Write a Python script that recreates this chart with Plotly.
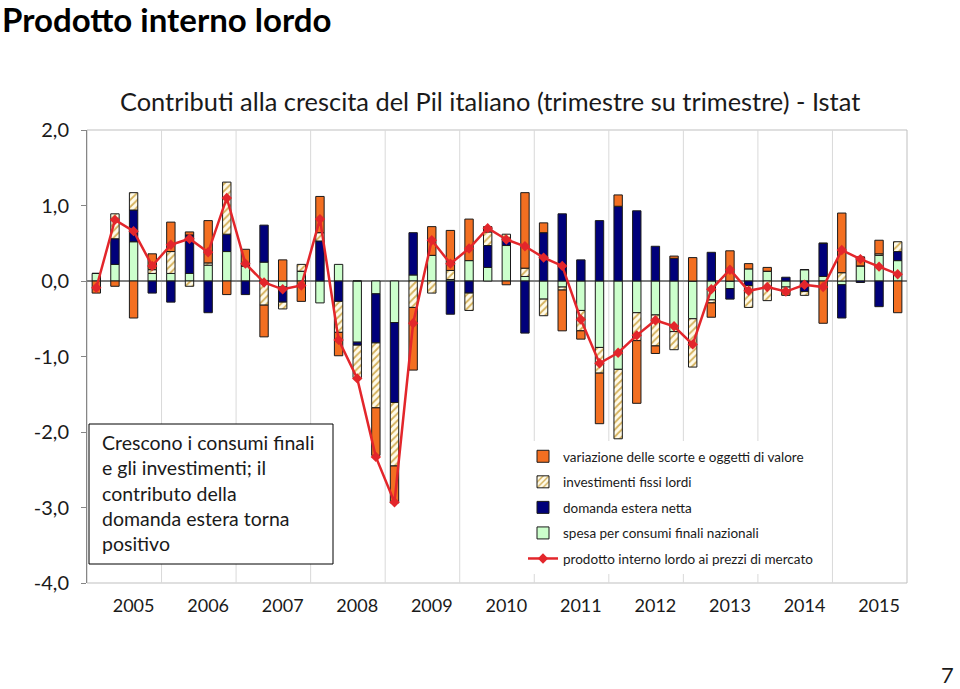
import plotly.graph_objects as go

years = [str(y) for y in range(2005, 2016)]
quarters = [f"{y}T{q}" for y in years for q in range(1, 5)]

consumi = [0.10, 0.22, 0.52, 0.10, 0.10, 0.10, 0.21, 0.39, 0.20, 0.25, -0.08, 0.13,
           -0.29, 0.22, -0.81, -0.17, -0.55, 0.08, 0.34, 0.02, 0.27, 0.18, 0.47, 0.06,
           -0.24, -0.08, -0.39, -0.88, -1.17, -0.42, -0.45, -0.67, -0.50, -0.25, -0.10, 0.16,
           0.13, -0.08, 0.15, 0.06, -0.05, 0.20, 0.34, 0.27]
estera = [0.0, 0.34, 0.42, -0.16, -0.28, 0.51, -0.42, 0.23, -0.18, 0.49, -0.20, 0.0,
          0.53, -0.27, -0.04, -0.65, -1.06, 0.56, 0.0, -0.44, -0.16, 0.29, 0.10, -0.69,
          0.64, 0.89, 0.28, 0.80, 0.99, 0.93, 0.46, 0.30, 0.0, 0.38, -0.14, -0.06,
          0.0, 0.05, -0.14, 0.44, -0.44, -0.02, -0.34, 0.12]
investimenti = [0.0, 0.33, 0.23, 0.05, 0.29, -0.07, 0.03, 0.69, 0.0, -0.32, -0.09, 0.09,
                0.11, -0.41, -0.43, -0.86, -0.84, -0.35, -0.16, 0.12, -0.23, 0.18, 0.05, 0.11,
                -0.22, -0.04, -0.27, -0.34, -0.92, -0.37, -0.41, -0.24, -0.64, -0.04, 0.0, -0.29,
                -0.26, -0.07, -0.05, 0.0, 0.11, 0.0, 0.02, 0.13]
scorte = [-0.16, -0.07, -0.49, 0.21, 0.39, 0.04, 0.56, -0.18, 0.22, -0.42, 0.28, -0.27,
          0.48, -0.31, 0.0, -0.63, -0.49, -0.83, 0.38, 0.53, 0.55, 0.07, -0.05, 1.00,
          0.13, -0.54, -0.11, -0.67, 0.15, -0.83, -0.10, 0.03, 0.31, -0.19, 0.40, 0.07,
          0.05, -0.04, 0.0, -0.56, 0.79, 0.12, 0.18, -0.42]
pil = [-0.09, 0.81, 0.66, 0.20, 0.48, 0.56, 0.38, 1.10, 0.23, -0.02, -0.11, -0.06,
       0.82, -0.78, -1.29, -2.33, -2.93, -0.56, 0.54, 0.23, 0.43, 0.70, 0.55, 0.46,
       0.31, 0.20, -0.51, -1.09, -0.95, -0.72, -0.52, -0.60, -0.84, -0.11, 0.15, -0.13,
       -0.08, -0.14, -0.05, -0.08, 0.41, 0.29, 0.19, 0.09]

names = {
    "scorte": "variazione delle scorte e oggetti di valore",
    "inv": "investimenti fissi lordi",
    "est": "domanda estera netta",
    "cons": "spesa per consumi finali nazionali",
    "pil": "prodotto interno lordo ai prezzi di mercato",
}
y_ticks = [-4, -3, -2, -1, 0, 1, 2]
y_ticktext = [f"{v:.1f}".replace(".", ",") for v in y_ticks]

FONT = "Lato"
outline = dict(color="#1a1a1a", width=1)
W = 0.45

fig = go.Figure()
fig.add_trace(go.Bar(x=quarters, y=consumi, name=names["cons"], width=W,
                     marker=dict(color="#CCFFCC", line=outline),
                     legendrank=4, legendgroup="d"))
fig.add_trace(go.Bar(x=quarters, y=estera, name=names["est"], width=W,
                     marker=dict(color="#00007A", line=outline),
                     legendrank=3, legendgroup="c"))
fig.add_trace(go.Bar(x=quarters, y=investimenti, name=names["inv"], width=W,
                     marker=dict(color="#D4B05A", line=outline,
                                 pattern=dict(shape="/", fillmode="replace",
                                              bgcolor="#FFFBEA", size=5, solidity=0.35)),
                     legendrank=2, legendgroup="b"))
fig.add_trace(go.Bar(x=quarters, y=scorte, name=names["scorte"], width=W,
                     marker=dict(color="#F36F21", line=outline),
                     legendrank=1, legendgroup="a"))
fig.add_trace(go.Scatter(x=quarters, y=pil, name=names["pil"], mode="lines+markers",
                         line=dict(color="#E3262B", width=2.5),
                         marker=dict(symbol="diamond", size=8, color="#E3262B"),
                         legendrank=5, legendgroup="e"))

shapes = []
shapes.append(dict(type="rect", xref="paper", yref="paper", x0=0, x1=1, y0=0, y1=1,
                   line=dict(color="#BFBFBF", width=1), layer="below"))
for i in range(1, 11):
    shapes.append(dict(type="line", xref="x", yref="paper", x0=i * 4 - 0.5, x1=i * 4 - 0.5,
                       y0=0, y1=1, line=dict(color="#D9D9D9", width=1), layer="below"))


def px_x(p):
    return (p - 87) / 820


def px_y(p):
    return (583 - p) / 453


shapes.append(dict(type="rect", xref="paper", yref="paper",
                   x0=px_x(89), x1=px_x(333), y0=px_y(564), y1=px_y(424),
                   line=dict(color="#000000", width=1), fillcolor="white", layer="above"))

annotations = [
    dict(text="Prodotto interno lordo", xref="paper", yref="paper", x=px_x(0), y=px_y(19),
         xanchor="left", yanchor="middle", showarrow=False,
         font=dict(family=FONT, size=33, color="#000000", weight="bold")),
    dict(text="Contributi alla crescita del Pil italiano (trimestre su trimestre) - Istat",
         xref="paper", yref="paper", x=px_x(490), y=px_y(101), xanchor="center",
         yanchor="middle", showarrow=False, font=dict(family=FONT, size=25.4, color="#1a1a1a")),
    dict(text="Crescono i consumi finali<br>e gli investimenti; il<br>contributo della<br>"
              "domanda estera torna<br>positivo",
         xref="paper", yref="paper", x=px_x(100), y=px_y(429), xanchor="left", yanchor="top",
         align="left", showarrow=False, font=dict(family=FONT, size=19.5, color="#1a1a1a")),
    dict(text="7", xref="paper", yref="paper", x=px_x(956), y=px_y(674), xanchor="right",
         yanchor="middle", showarrow=False, font=dict(family=FONT, size=22, color="#1a1a1a")),
]

fig.update_layout(
    width=960, height=689,
    margin=dict(l=87, r=53, t=130, b=106),
    paper_bgcolor="white", plot_bgcolor="white",
    barmode="relative",
    font=dict(family=FONT, color="#1a1a1a"),
    shapes=shapes,
    annotations=annotations,
    legend=dict(x=px_x(523), y=px_y(441), xanchor="left", yanchor="top",
                bgcolor="white", font=dict(family=FONT, size=13.5, color="#1a1a1a"),
                tracegroupgap=5, itemwidth=30),
    xaxis=dict(type="category", categoryorder="array", categoryarray=quarters,
               range=[-0.5, 43.5], tickmode="array",
               tickvals=[f"{y}T3" for y in years], ticktext=years,
               ticks="", showgrid=False, showline=False, zeroline=False,
               tickfont=dict(family=FONT, size=18, color="#1a1a1a"), ticklabelstandoff=10),
    yaxis=dict(range=[-4, 2], tickmode="array", tickvals=y_ticks, ticktext=y_ticktext,
               ticks="outside", ticklen=5, tickcolor="#868686", showgrid=False,
               showline=True, linecolor="#868686", linewidth=1,
               zeroline=True, zerolinecolor="#7F7F7F", zerolinewidth=1.5,
               tickfont=dict(family=FONT, size=20, color="#1a1a1a"), ticklabelstandoff=8),
)

fig.write_html("out.html", config={"displayModeBar": False},
               post_script="document.body.style.margin='0';")
